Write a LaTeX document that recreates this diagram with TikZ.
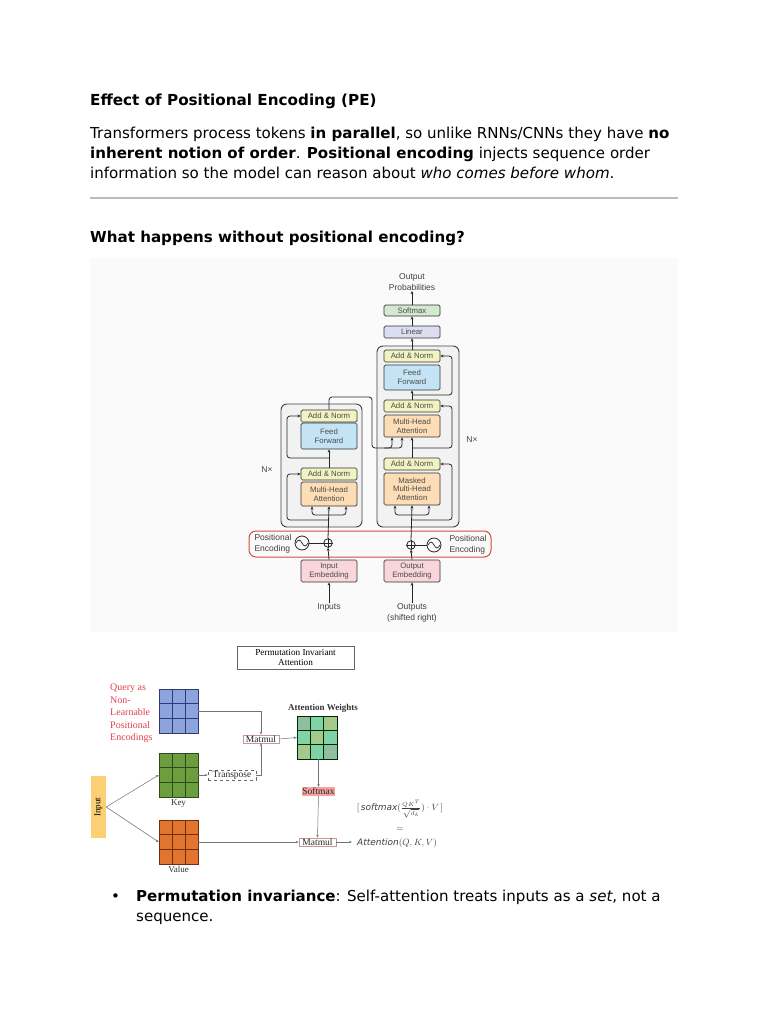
\documentclass[tikz,border=0pt]{standalone}
\usepackage{fontspec}
\setmainfont{DejaVu Sans}
\newfontfamily\tfont{Liberation Sans}
\newfontfamily\sfont{Liberation Serif}
\usetikzlibrary{arrows.meta,calc}
\definecolor{outerc}{HTML}{F2F2F2}
\definecolor{anc}{HTML}{F1F3C2}
\definecolor{ffc}{HTML}{C4E4F6}
\definecolor{mhac}{HTML}{FCDDB5}
\definecolor{embc}{HTML}{F8D6DB}
\definecolor{linc}{HTML}{DDDDF2}
\definecolor{smc}{HTML}{D3E9D0}
\definecolor{pered}{HTML}{D94A3D}
\definecolor{qc}{HTML}{8DA3DD}
\definecolor{qd}{HTML}{2E3C72}
\definecolor{kc}{HTML}{6C9E3F}
\definecolor{kd}{HTML}{2F4A1A}
\definecolor{vc}{HTML}{E27430}
\definecolor{vd}{HTML}{6A3010}
\definecolor{inc}{HTML}{FBCF74}
\definecolor{sfc}{HTML}{F5A3A0}
\definecolor{redtxt}{HTML}{E0404C}
\definecolor{awa}{HTML}{8FBFA0}
\definecolor{awb}{HTML}{7FD3A6}
\definecolor{awc}{HTML}{A3C98D}
\definecolor{ruleg}{HTML}{BBBBBB}
\begin{document}
\begin{tikzpicture}[x=1pt,y=-1pt,
  body/.style={anchor=base west, inner sep=0, font=\fontsize{15.05}{18}\selectfont},
  tbox/.style={draw=black!80, line width=0.7pt, rounded corners=1.5pt, minimum width=56pt,
    inner sep=0, align=center, text=black!70, font=\tfont\fontsize{7.8}{8.6}\selectfont},
  outerbox/.style={draw=black!75, line width=0.9pt, fill=outerc, rounded corners=6pt},
  tlabel/.style={inner sep=0, align=center, text=black!75, font=\tfont\fontsize{8.5}{11.5}\selectfont},
  ln/.style={draw=black!85, line width=0.8pt, rounded corners=3pt},
  rarr/.style={ln, -{Stealth[length=3.2pt,width=2.8pt]}},
  grid3/.style={minimum width=39pt, minimum height=44pt, inner sep=0, line width=0.6pt},
  glab/.style={inner sep=0, font=\sfont\fontsize{9}{10}\selectfont, text=black!80},
  sbox/.style={inner sep=0.8pt, font=\sfont\fontsize{9.5}{10}\selectfont, text=black!85, line width=0.5pt},
  garr/.style={draw=black!55, line width=0.5pt, -{Stealth[length=3pt,width=2.4pt]}}
]
\useasboundingbox (0,0) rectangle (768,1024);

% ---------------- header text ----------------
\node[anchor=base west, inner sep=0, font=\bfseries\fontsize{15.2}{17}\selectfont] (title) at (90,106) {Effect of Positional Encoding (PE)};
\node[body] (p1) at (90,139) {Transformers process tokens \textbf{in parallel}, so unlike RNNs/CNNs they have \textbf{no}};
\node[body] (p2) at (90,159) {\textbf{inherent notion of order}. \textbf{Positional encoding} injects sequence order};
\node[body] (p3) at (90,179) {information so the model can reason about \textit{who comes before whom}.};
\draw[ruleg, line width=2pt] (90,198) -- (678,198);
\node[anchor=base west, inner sep=0, font=\bfseries\fontsize{15.1}{18}\selectfont] (h2) at (90,242) {What happens without positional encoding?};

% ---------------- transformer figure ----------------
\fill[black!2] (90,258) rectangle (678,632);

\node[outerbox, minimum width=81pt, minimum height=123pt, inner sep=0] (encbox) at (321.5,465.5) {};
\node[outerbox, minimum width=82pt, minimum height=181pt, inner sep=0] (decbox) at (418,436.5) {};

% decoder
\node[tlabel] (oprob) at (412,282) {Output\\Probabilities};
\node[tbox, fill=smc, minimum height=11pt] (dsm) at (412,310.5) {Softmax};
\node[tbox, fill=linc, minimum height=12pt] (dlin) at (412,332) {Linear};
\node[tbox, fill=anc, minimum height=12pt] (dan3) at (412,356) {Add \& Norm};
\node[tbox, fill=ffc, minimum height=25pt] (dff) at (412,377.5) {Feed\\Forward};
\node[tbox, fill=anc, minimum height=12pt] (dan2) at (412,406) {Add \& Norm};
\node[tbox, fill=mhac, minimum height=22pt] (dmha) at (412,426) {Multi-Head\\Attention};
\node[tbox, fill=anc, minimum height=12pt] (dan1) at (412,464) {Add \& Norm};
\node[tbox, fill=mhac, minimum height=32pt] (dmmha) at (412,489) {Masked\\Multi-Head\\Attention};
\node[tbox, fill=embc, minimum height=22pt] (oemb) at (412,571) {Output\\Embedding};
\node[tlabel] (outs) at (412,613) {Outputs\\(shifted right)};
\node[tlabel] (nxr) at (472,440) {N\texttimes};

% encoder
\node[tbox, fill=anc, minimum height=12pt] (ean2) at (329,416) {Add \& Norm};
\node[tbox, fill=ffc, minimum height=26pt] (eff) at (329,436) {Feed\\Forward};
\node[tbox, fill=anc, minimum height=12pt] (ean1) at (329,474) {Add \& Norm};
\node[tbox, fill=mhac, minimum height=24pt] (emha) at (329,494) {Multi-Head\\Attention};
\node[tbox, fill=embc, minimum height=22pt] (iemb) at (329,571) {Input\\Embedding};
\node[tlabel] (ins) at (329,607) {Inputs};
\node[tlabel] (nxl) at (267,470) {N\texttimes};

% positional encoding
\node[draw=pered, line width=1pt, rounded corners=7pt, minimum width=242pt, minimum height=26pt, inner sep=0] (pebox) at (370,544) {};
\node[tlabel, align=left] (pel) at (273,544) {Positional\\Encoding};
\node[tlabel, align=left] (per) at (468,545) {Positional\\Encoding};
\node[draw=black!85, line width=0.8pt, circle, minimum size=14pt, inner sep=0] (esin) at (302,543) {};
\node[draw=black!85, line width=0.8pt, circle, minimum size=8.5pt, inner sep=0] (eplus) at (328,543) {};
\node[draw=black!85, line width=0.8pt, circle, minimum size=14pt, inner sep=0] (dsin) at (434,545) {};
\node[draw=black!85, line width=0.8pt, circle, minimum size=8.5pt, inner sep=0] (dplus) at (411,545) {};
\draw[black!85, line width=0.7pt] (296,543) sin (299,540) cos (302,543) sin (305,546) cos (308,543);
\draw[black!85, line width=0.7pt] (428,545) sin (431,542) cos (434,545) sin (437,548) cos (440,545);
\draw[black!85, line width=0.6pt] (eplus.north) -- (eplus.south) (eplus.west) -- (eplus.east);
\draw[black!85, line width=0.6pt] (dplus.north) -- (dplus.south) (dplus.west) -- (dplus.east);
\draw[ln] (esin.east) -- (eplus.west);
\draw[ln] (dsin.west) -- (dplus.east);

% encoder connectors
\draw[rarr] (ins.north) -- (iemb.south);
\draw[rarr] (iemb.north) -- (eplus.south);
\draw[rarr] (eplus.north) -- (emha.south);
\coordinate (eb) at (329,515);
\draw[rarr] (eb) -| ([xshift=-17pt]emha.south);
\draw[rarr] (eb) -| ([xshift=17pt]emha.south);
\coordinate (er1) at (329,520);
\draw[rarr] (er1) -| (287,474) -- (ean1.west);
\draw[rarr] (ean1.north) -- (eff.south);
\coordinate (er2) at (329,458);
\draw[rarr] (er2) -| (287,416) -- (ean2.west);
\draw[rarr] (ean2.north) -- (329,397) -- (372,397) -- (372,448) -| ([xshift=-20pt]dmha.south);
\coordinate (eo2) at (384,448);
\draw[rarr] (eo2) -| ([xshift=-10pt]dmha.south);

% decoder connectors
\draw[rarr] (outs.north) -- (oemb.south);
\draw[rarr] (oemb.north) -- (dplus.south);
\draw[rarr] (dplus.north) -- (dmmha.south);
\coordinate (db) at (412,515);
\draw[rarr] (db) -| ([xshift=-17pt]dmmha.south);
\draw[rarr] (db) -| ([xshift=17pt]dmmha.south);
\coordinate (dr1) at (412,520);
\draw[rarr] (dr1) -| (452,464) -- (dan1.east);
\draw[rarr] (dan1.north) -- (dmha.south);
\coordinate (dr2) at (412,448);
\draw[rarr] (dr2) -| (452,406) -- (dan2.east);
\draw[rarr] (dan2.north) -- (dff.south);
\coordinate (dr3) at (412,395);
\draw[rarr] (dr3) -| (452,356) -- (dan3.east);
\draw[rarr] (dan3.north) -- (dlin.south);
\draw[rarr] (dlin.north) -- (dsm.south);
\draw[rarr] (dsm.north) -- (oprob.south);

% ---------------- permutation invariant figure ----------------
\node[draw=black!60, line width=0.6pt, minimum width=117pt, minimum height=23pt, inner sep=0, align=center,
  font=\sfont\fontsize{9.2}{10.5}\selectfont] (ptitle) at (295.5,657.5) {Permutation Invariant\\Attention};
\node[anchor=north west, inner sep=0, align=left, text=redtxt, font=\sfont\fontsize{10}{12.5}\selectfont] (qlab) at (110,684) {Query as\\Non-\\Learnable\\Positional\\Encodings};

\node[grid3, fill=qc, draw=qd] (query) at (178.5,711) {};
\node[grid3, fill=kc, draw=kd] (key) at (178.5,775) {};
\node[grid3, fill=vc, draw=vd] (value) at (178.5,842) {};
\foreach \g/\c in {query/qd,key/kd,value/vd}{
  \foreach \f in {0.3333,0.6667}{
    \draw[\c, line width=0.6pt] ($(\g.north west)!\f!(\g.north east)$) -- ($(\g.south west)!\f!(\g.south east)$);
    \draw[\c, line width=0.6pt] ($(\g.north west)!\f!(\g.south west)$) -- ($(\g.north east)!\f!(\g.south east)$);
  }
}
\node[glab] (klab) at (178.5,804) {Key};
\node[glab] (vlab) at (178.5,869) {Value};

\node[fill=inc, minimum width=15pt, minimum height=62pt, inner sep=0] (inp) at (98.5,807) {};
\node[rotate=90, inner sep=0, font=\sfont\fontsize{9}{10}\selectfont] (inptxt) at (inp.center) {Input};

% attention weights
\node[minimum width=40pt, minimum height=43pt, inner sep=0] (aw) at (317,737.5) {};
\foreach \r/\cols in {0/{awa,awb,awc},1/{awb,awc,awb},2/{awc,awb,awa}}{
  \foreach \c [count=\i from 0] in \cols {
    \fill[\c] ($(aw.north west)+(\i*13.333,\r*14.333)$) rectangle ++(13.333,14.333);
  }
}
\draw[black!60!green!40!black, line width=0.6pt] (aw.north west) rectangle (aw.south east);
\foreach \f in {0.3333,0.6667}{
  \draw[black!60!green!40!black, line width=0.6pt] ($(aw.north west)!\f!(aw.north east)$) -- ($(aw.south west)!\f!(aw.south east)$);
  \draw[black!60!green!40!black, line width=0.6pt] ($(aw.north west)!\f!(aw.south west)$) -- ($(aw.north east)!\f!(aw.south east)$);
}
\node[inner sep=0, font=\sfont\bfseries\fontsize{9}{10}\selectfont, text=black!80] (awlab) at (323,708) {Attention Weights};

\node[sbox, draw=red!40!black!40, minimum width=36pt] (mm1) at (261,739) {Matmul};
\node[sbox, draw=black!60, dashed, minimum width=48pt] (tr) at (232,775) {Transpose};
\node[sbox, fill=sfc, minimum width=33pt] (smx) at (318.5,791.5) {Softmax};
\node[sbox, draw=red!40!black!40, minimum width=37pt] (mm2) at (317.5,842) {Matmul};

\draw[garr] (inp.east) -- (key.west);
\draw[garr] (inp.east) -- (value.west);
\draw[garr] (query.east) -| (mm1.north);
\draw[garr] (key.east) -- (tr.west);
\draw[garr] (tr.east) -| (mm1.south);
\draw[garr] (mm1.east) -- (aw.west);
\draw[garr] (aw.south -| smx.north) -- (smx.north);
\draw[garr] (smx.south) -- (mm2.north);
\draw[garr] (value.east) -- (mm2.west);
\coordinate (mmout) at (352,842);
\draw[garr] (mm2.east) -- (mmout);

\node[inner sep=0, text=black!75, font=\fontsize{9}{10}\selectfont] (f1) at (400,809) {$[\,\mathit{softmax}(\frac{QK^T}{\sqrt{d_k}})\cdot V\,]$};
\node[inner sep=0, text=black!75, font=\fontsize{9}{10}\selectfont] (f2) at (400,830) {$=$};
\node[inner sep=0, text=black!75, font=\fontsize{9}{10}\selectfont] (f3) at (397,843) {$\mathit{Attention}(Q,K,V)$};

% ---------------- bullet ----------------
\node[body] (bul) at (111,901) {•};
\node[body] (b1) at (136,901) {\textbf{Permutation invariance}: Self-attention treats inputs as a \textit{set}, not a};
\node[body] (b2) at (136,921) {sequence.};
\end{tikzpicture}
\end{document}
